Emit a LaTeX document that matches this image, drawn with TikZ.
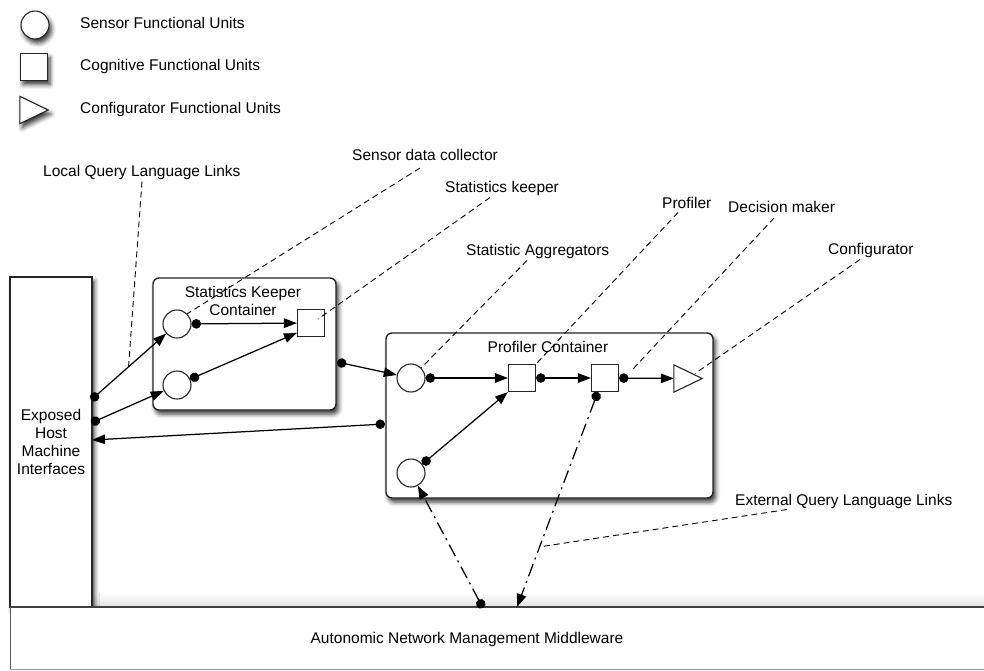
\documentclass[tikz,border=0pt]{standalone}
\usepackage{fontspec}
\setmainfont{Liberation Sans}
\usetikzlibrary{arrows.meta,shadows.blur,calc}
\begin{document}
\begin{tikzpicture}[x=1pt,y=-1pt,
  font=\fontsize{15.5}{18}\selectfont,
  softshadow/.style={blur shadow={shadow xshift=2.5pt,shadow yshift=-4pt,shadow blur radius=4.5pt,shadow opacity=80}},
  unitline/.style={draw=black!85, line width=1.1pt, fill=white},
  sensor/.style={unitline, circle, inner sep=0pt, minimum size=28pt},
  cognitive/.style={unitline, rectangle, inner sep=0pt, minimum size=27pt},
  trislot/.style={inner sep=0pt, minimum width=28pt, minimum height=27pt},
  container/.style={draw=black!85, line width=1.4pt, fill=white, rounded corners=6pt, inner sep=0pt, softshadow},
  tag/.style={anchor=base west, inner sep=0pt},
  link/.style={line width=1.25pt, {Circle[length=9.5pt,fill=black]}-{Triangle[length=13pt,width=9.5pt,fill=black]}},
  extlink/.style={link, dash pattern=on 13pt off 5pt on 2pt off 5pt},
  leader/.style={line width=0.9pt, dash pattern=on 6pt off 4pt},
]
\useasboundingbox (0,0) rectangle (984,670);

% legend
\node[sensor, softshadow] (lsensor) at (35,25) {};
\node[cognitive, softshadow] (lcog) at (34,67) {};
\node[trislot] (lconf) at (34,110) {};
\draw[unitline, softshadow] (lconf.north west) -- (lconf.east) -- (lconf.south west) -- cycle;
\node[tag] (lt1) at (80,28.5) {Sensor Functional Units};
\node[tag] (lt2) at (80,70.5) {Cognitive Functional Units};
\node[tag] (lt3) at (80,113.5) {Configurator Functional Units};

% faint shadow above middleware
\fill[top color=white, bottom color=black!12] (10,593) rectangle (984,607);

% host interfaces
\node[draw=black!85, line width=1.1pt, fill=white, softshadow, minimum width=82pt, minimum height=330pt, inner sep=0pt] (host) at (51,442) {};
\node[align=center] (hosttext) at (51,442) {Exposed\\Host\\Machine\\Interfaces};

% middleware
\node[fill=white, minimum width=990pt, minimum height=62pt, anchor=north west, inner sep=0pt] (mw) at (10,607) {};
\draw[black!75, line width=2.4pt] (mw.north west) -- (mw.north east);
\draw[black!40, line width=1pt] (mw.south west) -- (mw.south east);
\draw[black!65, line width=1pt] (mw.north west) -- (mw.south west);
\node[anchor=base] (mwtext) at (467,643.5) {Autonomic Network Management Middleware};

% containers
\node[container, minimum width=183pt, minimum height=132pt] (skc) at (244.5,344) {};
\node[align=center] (sktitle) at (243,301) {Statistics Keeper\\Container};
\node[container, minimum width=327pt, minimum height=165pt] (pc) at (549.5,415.5) {};
\node[anchor=base] (ptitle) at (548,352.5) {Profiler Container};

% units
\node[sensor] (s1) at (177,324) {};
\node[sensor] (s2) at (177,385) {};
\node[cognitive] (k1) at (311,323) {};
\node[sensor] (p1) at (411,378) {};
\node[sensor] (p2) at (411,473) {};
\node[cognitive] (pa) at (522,378) {};
\node[cognitive] (pb) at (605,378) {};
\node[trislot] (pt) at (688,378.5) {};
\draw[unitline] (pt.north west) -- (pt.east) -- (pt.south west) -- cycle;

% connection points
\coordinate (h1) at (91,400);
\coordinate (h2) at (91,423);
\coordinate (h3) at (92,440);
\coordinate (skout) at (337,362);
\coordinate (pin) at (385,424);
\coordinate (mwa) at (483,608);
\coordinate (mwb) at (517,607);

% links
\draw[link] (h1) -- coordinate[pos=0.5] (lqlink) (s1);
\draw[link] (h2) -- (s2);
\draw[link] (s1) -- (k1);
\draw[link] (s2.24) -- (k1.215);
\draw[link] (skout) -- (p1);
\draw[link] (pin) -- (h3);
\draw[link] (p1) -- (pa);
\draw[link] (pa) -- (pb);
\draw[link] (pb) -- (pt);
\draw[link] (p2.38) -- (pa.south west);
\draw[extlink] (mwa) -- (p2);
\draw[extlink] (pb.243) -- coordinate[pos=0.72] (eqlink) (mwb);

% labels
\node[tag] (llq) at (43,176.5) {Local Query Language Links};
\node[tag] (lsdc) at (352,160.5) {Sensor data collector};
\node[tag] (lsk) at (445,192.5) {Statistics keeper};
\node[tag] (lsa) at (466,255.5) {Statistic Aggregators};
\node[tag] (lpr) at (662,208.5) {Profiler};
\node[tag] (ldm) at (728,212.5) {Decision maker};
\node[tag] (lcf) at (828,254.5) {Configurator};
\node[tag] (leq) at (735,505.5) {External Query Language Links};

% leaders
\draw[leader] ($(llq.base west)+(99,5)$) -- (lqlink);
\draw[leader] ($(lsdc.base west)+(68,7.5)$) -- (s1.north east);
\draw[leader] ($(lsk.base west)+(45,5)$) -- ($(k1.center)+(7,-4)$);
\draw[leader] ($(lsa.base west)+(61,5)$) -- (p1.north east);
\draw[leader] ($(lpr.base west)+(16,4)$) -- (pa.north east);
\draw[leader] ($(ldm.base west)+(46,5.5)$) -- ($(pb.east)+(13,-8)$);
\draw[leader] ($(lcf.base west)+(32,5)$) -- ($(pt.center)+(7,-5)$);
\draw[leader] ($(leq.base west)+(52,4)$) -- (eqlink);
\end{tikzpicture}
\end{document}
